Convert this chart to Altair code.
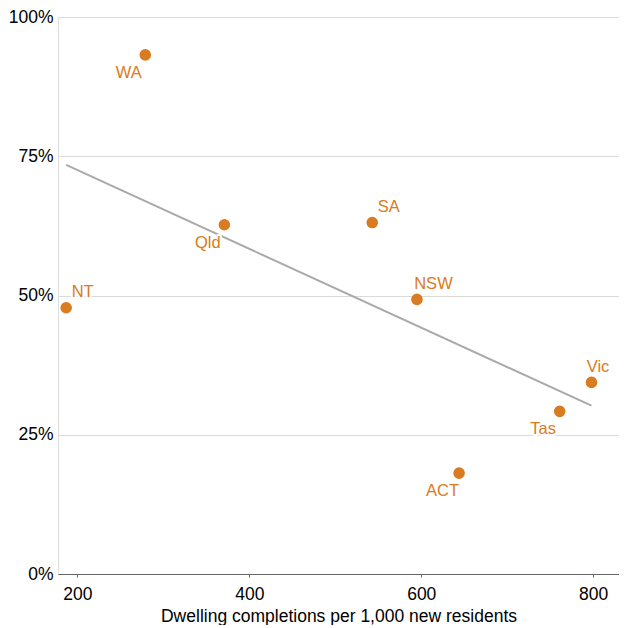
import altair as alt
import pandas as pd

states = ["WA", "Qld", "SA", "NT", "NSW", "Vic", "Tas", "ACT"]
completions = [279, 371, 543, 187, 595, 798, 761, 644]
share = [0.932, 0.627, 0.631, 0.478, 0.493, 0.344, 0.292, 0.181]

x_ticks = [200, 400, 600, 800]
y_ticks = [0, 0.25, 0.5, 0.75, 1.0]

below_left = ["WA", "Qld", "Tas", "ACT"]
above_right = ["NT", "SA", "NSW"]
above = ["Vic"]

df = pd.DataFrame({"state": states, "x": completions, "y": share})

ORANGE = "#D97B21"
FONT = "Liberation Sans"

xs = alt.Scale(domain=[177.5, 830], nice=False, zero=False)
ys = alt.Scale(domain=[0, 1], nice=False)

base = alt.Chart(df)

xenc = alt.X(
    "x:Q",
    scale=xs,
    title="Dwelling completions per 1,000 new residents",
    axis=alt.Axis(
        values=x_ticks,
        grid=False,
        domainColor="#666666",
        tickColor="#666666",
        tickSize=3,
        labelPadding=8,
        labelFontSize=17.5,
        labelColor="#000000",
        labelFont=FONT,
        titleFont=FONT,
        titleFontSize=17.5,
        titleFontWeight="normal",
        titleColor="#000000",
        titlePadding=5,
    ),
)
yenc = alt.Y(
    "y:Q",
    scale=ys,
    title=None,
    axis=alt.Axis(
        values=y_ticks,
        format=".0%",
        grid=True,
        gridColor="#dadada",
        domain=False,
        ticks=False,
        tickSize=0,
        labelPadding=5,
        labelFontSize=17.5,
        labelColor="#000000",
        labelFont=FONT,
    ),
)

trend = base.transform_regression("x", "y").mark_line(
    color="#aaaaaa", strokeWidth=2
).encode(x=alt.X("x:Q", scale=xs), y=alt.Y("y:Q", scale=ys))

points = base.mark_circle(size=135, color=ORANGE, opacity=1).encode(x=xenc, y=yenc)


def labels(names, dx, dy):
    sub = base.transform_filter(alt.FieldOneOfPredicate(field="state", oneOf=names))
    enc = dict(x=alt.X("x:Q", scale=xs), y=alt.Y("y:Q", scale=ys), text="state:N")
    halo = sub.mark_text(
        font=FONT, fontSize=16.5, align="center", baseline="middle", dx=dx, dy=dy,
        color="white", stroke="white", strokeWidth=4, strokeJoin="round",
    ).encode(**enc)
    txt = sub.mark_text(
        font=FONT, fontSize=16.5, align="center", baseline="middle", dx=dx, dy=dy,
        color=ORANGE,
    ).encode(**enc)
    return [halo, txt]


layers = [trend, points]
layers += labels(below_left, -16.5, 18)
layers += labels(above_right, 16.5, -15.5)
layers += labels(above, 6.5, -15.5)

chart = alt.layer(*layers).properties(
    width=561,
    height=557,
    padding={"left": 0, "top": 0, "right": 0, "bottom": 0},
).configure_view(stroke=None).configure(font=FONT)

chart.save("out.html", embed_options={"renderer": "svg", "actions": False})
